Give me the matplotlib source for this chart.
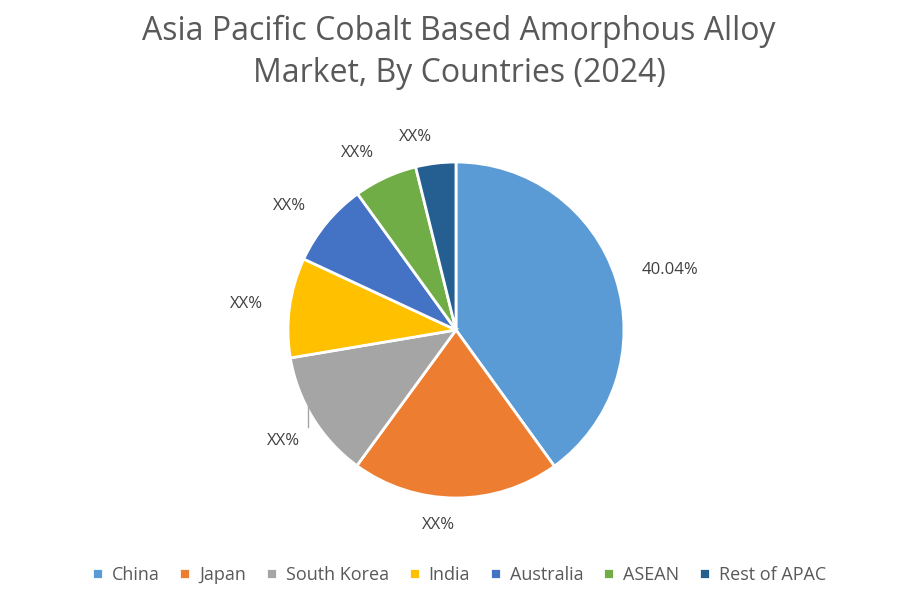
import matplotlib.pyplot as plt

countries = ["China", "Japan", "South Korea", "India", "Australia", "ASEAN", "Rest of APAC"]
shares = [40.04, 20.0, 12.3, 9.6, 8.1, 6.1, 3.86]
labels = ["40.04%", "XX%", "XX%", "XX%", "XX%", "XX%", "XX%"]
colors = ["#5B9BD5", "#ED7D31", "#A5A5A5", "#FFC000", "#4472C4", "#70AD47", "#255E91"]

plt.rcParams["font.family"] = ["Open Sans", "DejaVu Sans"]

fig = plt.figure(figsize=(9.18, 6), dpi=100)
ax = fig.add_axes([0.3137, 0.17, 0.366, 0.56])

wedges, texts = ax.pie(shares, labels=labels, colors=colors, startangle=90,
                       counterclock=False, labeldistance=1.16,
                       wedgeprops=dict(edgecolor="white", linewidth=2),
                       textprops=dict(fontsize=12, color="#404040"))
ax.set_xlim(-1, 1)
ax.set_ylim(-1, 1)
ax.set_aspect("equal")

# leader line for South Korea label
ax.plot([-0.88, -0.88], [-0.45, -0.58], color="#A5A5A5", lw=1, clip_on=False)
texts[2].set_position((-0.93, -0.66))

fig.suptitle("Asia Pacific Cobalt Based Amorphous Alloy\nMarket, By Countries (2024)",
             y=0.975, fontsize=23, color="#595959", linespacing=1.35)

fig.legend(wedges, countries, loc="lower center", ncol=7, frameon=False,
           bbox_to_anchor=(0.5, 0.0), fontsize=13, handlelength=0.6,
           handleheight=0.6, columnspacing=1.1, handletextpad=0.5,
           labelcolor="#595959")

fig.savefig("out.png", dpi=100)
